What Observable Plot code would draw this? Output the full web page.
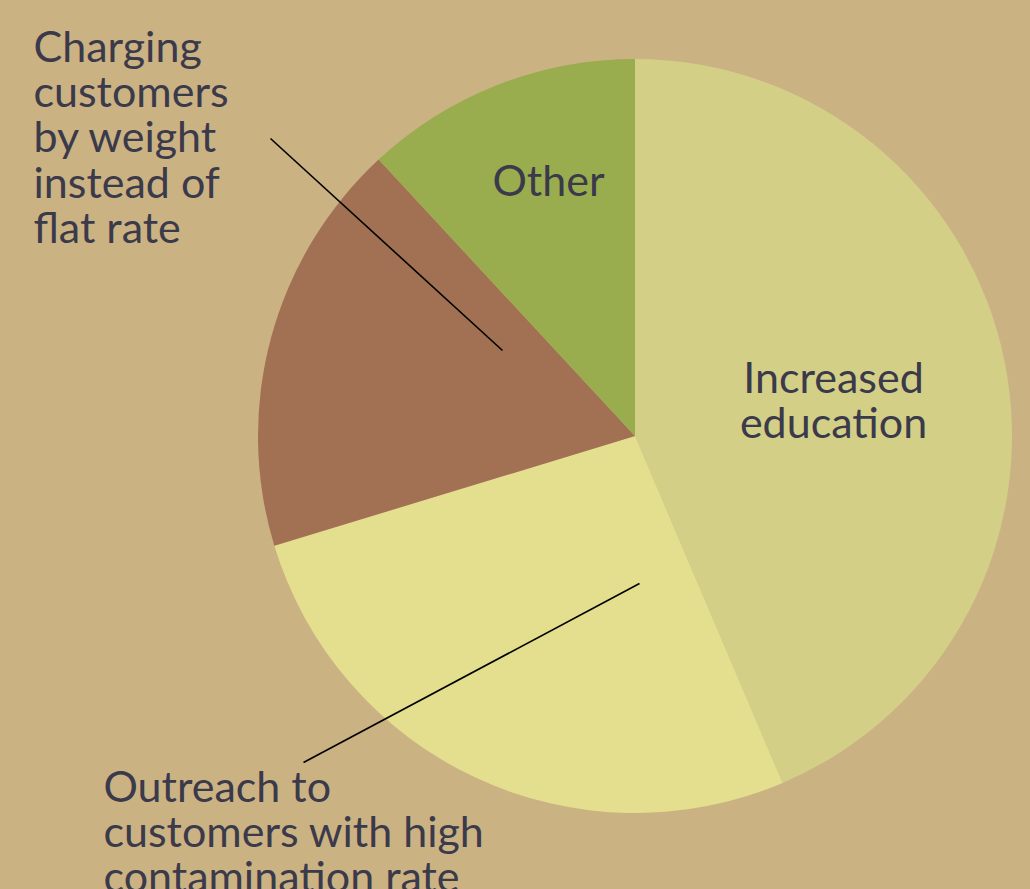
<!DOCTYPE html>
<html><head><meta charset="utf-8">
<script src="https://cdn.jsdelivr.net/npm/d3@7"></script>
<script src="https://cdn.jsdelivr.net/npm/@observablehq/plot@0.6"></script>
<style>
html,body{margin:0;padding:0;background:#CBB283;overflow:hidden;}
#chart svg{display:block;}
</style></head><body><div id="chart"></div>
<script>
// ---- data ----
const categories = [
  "Increased education",
  "Outreach to customers with high contamination rate",
  "Charging customers by weight instead of flat rate",
  "Other"
];
const values = [43.6, 26.7, 17.8, 11.9];
const colors = ["#D3CF87", "#E4DF8F", "#A27153", "#9AAD4E"];
const labelLines = [
  ["Increased", "education"],
  ["Outreach to", "customers with high", "contamination rate"],
  ["Charging", "customers", "by weight", "instead of", "flat rate"],
  ["Other"]
];

// ---- layout (chart coordinate space, pixels) ----
const W = 1030, H = 889;
const pie = {cx: 635, cy: 436, r: 377};
const fontSize = 43, lineGap = 45.5;
const labelLayout = [
  {x: 833, base: 392, anchor: "middle"},
  {x: 103, base: 801, anchor: "start"},
  {x: 33, base: 61, anchor: "start"},
  {x: 548, base: 195, anchor: "middle"}
];
const leaders = [
  {i: 1, x1: 303, y1: 762, x2: 639, y2: 583},
  {i: 2, x1: 270, y1: 138, x2: 502, y2: 350}
];

const color = Plot.scale({color: {type: "ordinal", domain: categories, range: colors}});
const slices = categories.map((c, i) => ({category: c, value: values[i]}));
const arcsData = d3.pie().sort(null).value(d => d.value)(slices);

const lh = lineGap / fontSize;
const labels = categories.map((c, i) => ({
  text: labelLines[i].join("\n"),
  x: labelLayout[i].x,
  y: labelLayout[i].base - 0.71 * lh * fontSize,
  anchor: labelLayout[i].anchor
}));

function pieMark(index, scales) {
  const cx = scales.x(pie.cx), cy = scales.y(pie.cy);
  const r = Math.abs(scales.x(pie.cx + pie.r) - cx);
  const arc = d3.arc().innerRadius(0).outerRadius(r);
  const g = d3.create("svg:g").attr("transform", `translate(${cx},${cy})`);
  g.selectAll("path").data(arcsData).join("path")
    .attr("d", arc)
    .attr("fill", d => color.apply(d.data.category));
  return g.node();
}

const textProps = {
  x: "x", y: "y", text: "text",
  lineAnchor: "top", lineHeight: lh,
  fontSize, fill: "#3B3A4B",
  fontFamily: "Lato, 'Open Sans', sans-serif"
};

const chart = Plot.plot({
  width: W, height: H,
  margin: 0,
  x: {domain: [0, W], range: [0, W], axis: null},
  y: {domain: [0, H], range: [0, H], axis: null},
  style: {background: "#CBB283", overflow: "hidden"},
  marks: [
    pieMark,
    Plot.link(leaders, {x1: "x1", y1: "y1", x2: "x2", y2: "y2", stroke: "#000", strokeWidth: 1.6}),
    Plot.text(labels.filter(d => d.anchor === "start"), {...textProps, textAnchor: "start"}),
    Plot.text(labels.filter(d => d.anchor === "middle"), {...textProps, textAnchor: "middle"})
  ]
});
document.getElementById("chart").appendChild(chart);
</script>
</body></html>
